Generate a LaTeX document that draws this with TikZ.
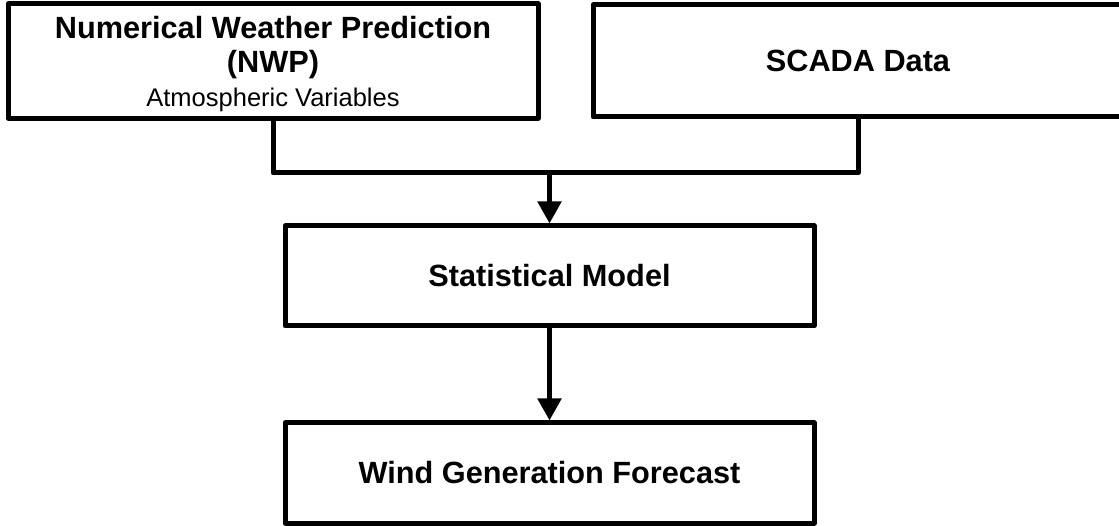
\documentclass[tikz,border=0pt]{standalone}
\usepackage{fontspec}
\setmainfont{Liberation Sans}
\usetikzlibrary{arrows.meta}
\begin{document}
\begin{tikzpicture}[x=0.5pt,y=0.5pt,
	box/.style={draw,line width=2.5pt,line join=round,minimum width=265pt,minimum height=56pt,align=center,font=\fontsize{15.35}{17}\selectfont\bfseries},
	flow/.style={line width=2.5pt,line join=round},
	flowarrow/.style={flow,-{Triangle[length=11pt,width=11.5pt]}}]
		\useasboundingbox (0,0) rectangle (1119,525);
		\node [box] at (273,464) (nwp) {\rule{0pt}{13.7pt}Numerical Weather Prediction\\(NWP)\\{\fontsize{12.75}{17}\selectfont\mdseries Atmospheric Variables}};
		\node [box] at (858,464) (scada) {SCADA Data};
		\node [box,minimum width=264.5pt,minimum height=50pt] at (549.5,249) (stat) {Statistical Model};
		\node [box,minimum width=264.5pt,minimum height=50pt] at (549.5,52) (wind) {Wind Generation Forecast};
		\coordinate (bus) at (549.5,352);
		\draw [flow] (nwp.south) |- (bus) -| (scada.south);
		\draw [flowarrow] (bus) -- (stat.north);
		\draw [flowarrow] (stat.south) -- (wind.north);
	\end{tikzpicture}
\end{document}
